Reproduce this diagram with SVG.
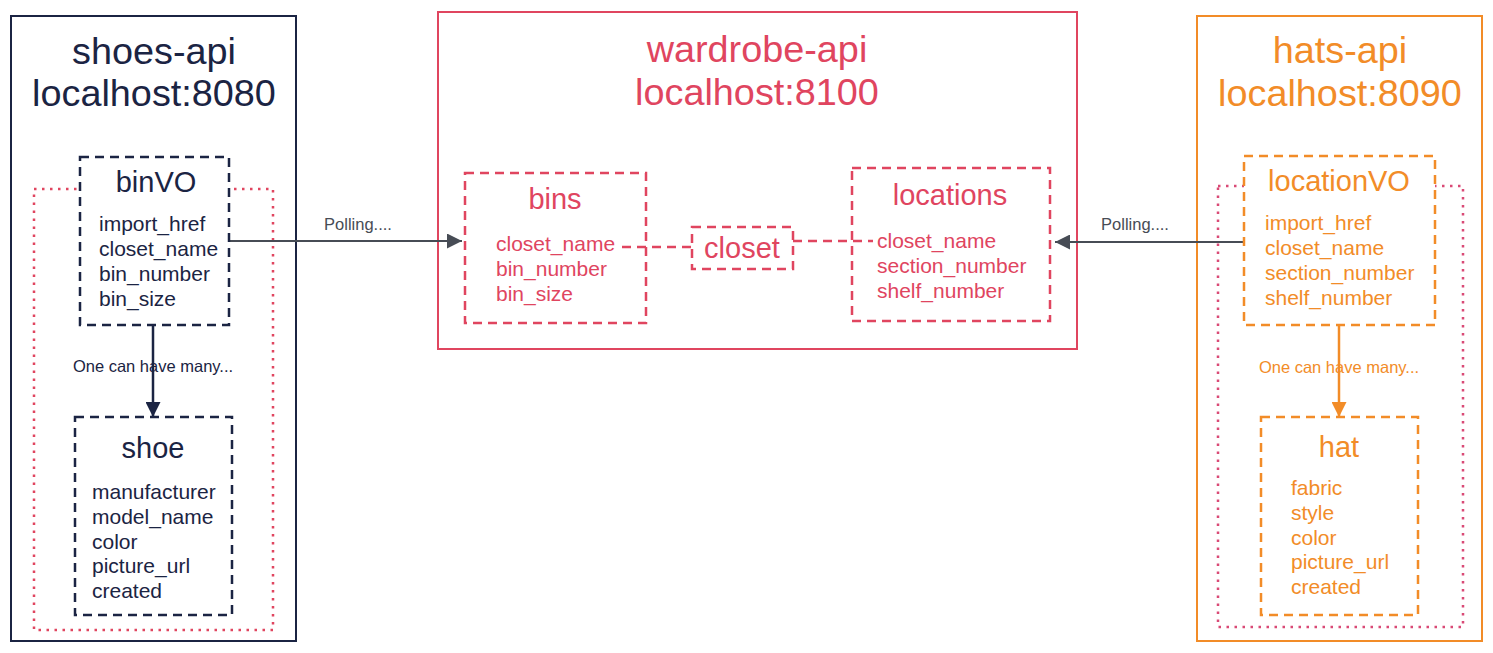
<svg xmlns="http://www.w3.org/2000/svg" width="1493" height="653" viewBox="0 0 1493 653">
<defs>
<style>
text{font-family:"Liberation Sans",Arial,sans-serif}
.t{font-size:37.8px;text-anchor:middle}
.s{font-size:29px;text-anchor:middle}
.f{font-size:21px}
.l{font-size:16.5px}
.navy{fill:#1b2443}
.red{fill:#e0455f}
.org{fill:#f28c28}
.gray{fill:#474c55}
.box{fill:#fff;stroke-width:2}
.dash{fill:#fff;stroke-width:2.5;stroke-dasharray:9 6}
.dot{fill:none;stroke-width:2.5;stroke-dasharray:2.5 5.5}
</style>
<marker id="ah-gray" viewBox="0 0 10 10" refX="10" refY="5" markerWidth="17" markerHeight="15" markerUnits="userSpaceOnUse" orient="auto"><path d="M0,0L10,5L0,10z" fill="#474c55"/></marker>
<marker id="ah-navy" viewBox="0 0 10 10" refX="10" refY="5" markerWidth="17" markerHeight="15" markerUnits="userSpaceOnUse" orient="auto"><path d="M0,0L10,5L0,10z" fill="#1b2443"/></marker>
<marker id="ah-org" viewBox="0 0 10 10" refX="10" refY="5" markerWidth="17" markerHeight="15" markerUnits="userSpaceOnUse" orient="auto"><path d="M0,0L10,5L0,10z" fill="#f28c28"/></marker>
</defs>
<rect width="1493" height="653" fill="#fff"/>

<g id="shoes-api">
<rect class="box" x="11" y="16" width="285" height="625" stroke="#1b2443"/>
<text class="t navy" x="154" y="64">shoes-api</text>
<text class="t navy" x="154" y="106">localhost:8080</text>
<rect class="dot" x="34" y="189" width="239" height="441" stroke="#e0455f"/>
</g>

<g id="wardrobe-api">
<rect class="box" x="438" y="12" width="639" height="337" stroke="#e0455f"/>
<text class="t red" x="757" y="62">wardrobe-api</text>
<text class="t red" x="757" y="105">localhost:8100</text>
</g>

<g id="hats-api">
<rect class="box" x="1197" y="16" width="285" height="625" stroke="#f28c28"/>
<text class="t org" x="1340" y="63">hats-api</text>
<text class="t org" x="1340" y="106">localhost:8090</text>
<rect class="dot" x="1218" y="186" width="245" height="441" stroke="#d94a76"/>
</g>

<g id="connectors">
<line x1="229" y1="241" x2="462" y2="241" stroke="#474c55" stroke-width="2" marker-end="url(#ah-gray)"/>
<text class="l gray" x="358" y="230" text-anchor="middle">Polling....</text>
<line x1="1244" y1="242" x2="1055" y2="242" stroke="#474c55" stroke-width="2" marker-end="url(#ah-gray)"/>
<text class="l gray" x="1135" y="230" text-anchor="middle">Polling....</text>
<line x1="153" y1="325" x2="153" y2="417" stroke="#1b2443" stroke-width="2.5" marker-end="url(#ah-navy)"/>
<text class="l navy" x="153" y="372" text-anchor="middle">One can have many...</text>
<line x1="1339" y1="325" x2="1339" y2="417" stroke="#f28c28" stroke-width="2.5" marker-end="url(#ah-org)"/>
<text class="l org" x="1339" y="373" text-anchor="middle">One can have many...</text>
<line x1="622" y1="247" x2="692" y2="247" stroke="#e0455f" stroke-width="2.5" stroke-dasharray="9 6"/>
<line x1="793" y1="241" x2="873" y2="241" stroke="#e0455f" stroke-width="2.5" stroke-dasharray="9 6"/>
</g>

<g id="binVO">
<rect class="dash" x="80" y="157" width="149" height="168" stroke="#1b2443"/>
<text class="s navy" x="156" y="192">binVO</text>
<text class="f navy" x="99" y="231">import_href</text>
<text class="f navy" x="99" y="256">closet_name</text>
<text class="f navy" x="99" y="281">bin_number</text>
<text class="f navy" x="99" y="306">bin_size</text>
</g>

<g id="shoe">
<rect class="dash" x="75" y="417" width="157" height="198" stroke="#1b2443"/>
<text class="s navy" x="153" y="458">shoe</text>
<text class="f navy" x="92" y="499">manufacturer</text>
<text class="f navy" x="92" y="524">model_name</text>
<text class="f navy" x="92" y="549">color</text>
<text class="f navy" x="92" y="573">picture_url</text>
<text class="f navy" x="92" y="598">created</text>
</g>

<g id="bins">
<rect class="dash" x="465" y="173" width="181" height="150" stroke="#e0455f" style="fill:none"/>
<text class="s red" x="555" y="209">bins</text>
<text class="f red" x="496" y="251">closet_name</text>
<text class="f red" x="496" y="276">bin_number</text>
<text class="f red" x="496" y="301">bin_size</text>
</g>

<g id="closet">
<rect class="dash" x="692" y="227" width="101" height="42" stroke="#e0455f"/>
<text class="s red" x="742" y="258">closet</text>
</g>

<g id="locations">
<rect class="dash" x="852" y="168" width="198" height="153" stroke="#e0455f" style="fill:none"/>
<text class="s red" x="950" y="205">locations</text>
<text class="f red" x="877" y="248">closet_name</text>
<text class="f red" x="877" y="273">section_number</text>
<text class="f red" x="877" y="298">shelf_number</text>
</g>

<g id="locationVO">
<rect class="dash" x="1244" y="156" width="191" height="169" stroke="#f28c28"/>
<text class="s org" x="1339" y="191">locationVO</text>
<text class="f org" x="1265" y="230">import_href</text>
<text class="f org" x="1265" y="255">closet_name</text>
<text class="f org" x="1265" y="280">section_number</text>
<text class="f org" x="1265" y="305">shelf_number</text>
</g>

<g id="hat">
<rect class="dash" x="1261" y="417" width="157" height="198" stroke="#f28c28"/>
<text class="s org" x="1339" y="457">hat</text>
<text class="f org" x="1291" y="495">fabric</text>
<text class="f org" x="1291" y="520">style</text>
<text class="f org" x="1291" y="545">color</text>
<text class="f org" x="1291" y="569">picture_url</text>
<text class="f org" x="1291" y="594">created</text>
</g>
</svg>
